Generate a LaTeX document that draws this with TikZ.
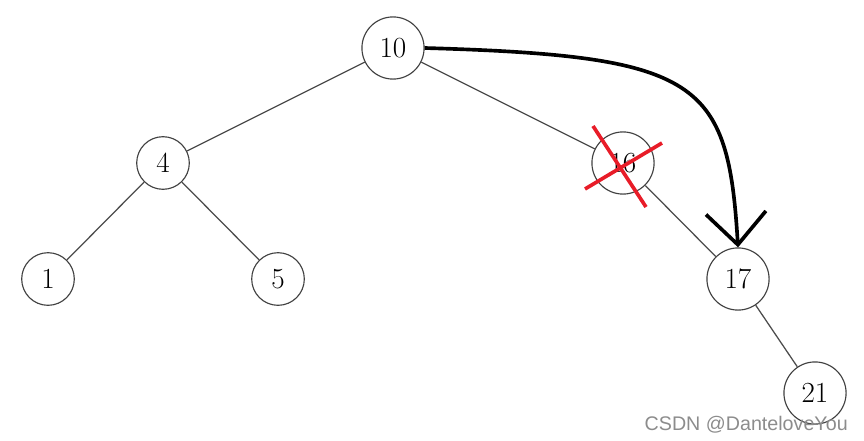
\documentclass[tikz,border=0pt]{standalone}
\usepackage{fontspec}
\newfontfamily\wmfont{Liberation Sans}
\usetikzlibrary{arrows.meta}

\begin{document}
\begin{tikzpicture}[x=1cm,y=1cm,
    vert/.style={circle,draw=black!75,line width=0.8pt,inner sep=7.5pt,font=\fontsize{21}{25}\selectfont},
    link/.style={draw=black!70,line width=0.9pt},
    cross/.style={draw={rgb,255:red,232;green,28;blue,40},line width=2.6pt},
    move/.style={line width=2.6pt,-{Straight Barb[length=8mm,width=15mm,line width=2.6pt]}}]
  \useasboundingbox (0,0) rectangle (21.6,-11);

  % tree
  \node[vert] (n10) at (9.825,-1.2) {$10$};
  \node[vert] (n4) at (4.075,-4.075) {$4$};
  \node[vert] (n16) at (15.575,-4.075) {$16$};
  \node[vert] (n1) at (1.2,-6.975) {$1$};
  \node[vert] (n5) at (6.95,-6.975) {$5$};
  \node[vert] (n17) at (18.45,-6.975) {$17$};
  \node[vert] (n21) at (20.375,-9.825) {$21$};
  \draw[link] (n10)--(n4) (n10)--(n16) (n4)--(n1) (n4)--(n5) (n16)--(n17) (n17)--(n21);

  % deleted node
  \draw[cross] ([shift={(-0.75,0.925)}]n16.center) -- ([shift={(0.575,-1.1)}]n16.center);
  \draw[cross] ([shift={(-0.95,-0.65)}]n16.center) -- ([shift={(0.975,0.5)}]n16.center);

  % replacement
  \draw[move] (n10.east) .. controls (17.5,-1.4) and (18.2,-2.0) .. (n17.north);

  \node[anchor=base east,text=black!45,font=\wmfont\fontsize{14}{17}\selectfont,inner sep=0pt] (wm) at (21.2,-10.75) {CSDN @DanteloveYou};
\end{tikzpicture}
\end{document}
